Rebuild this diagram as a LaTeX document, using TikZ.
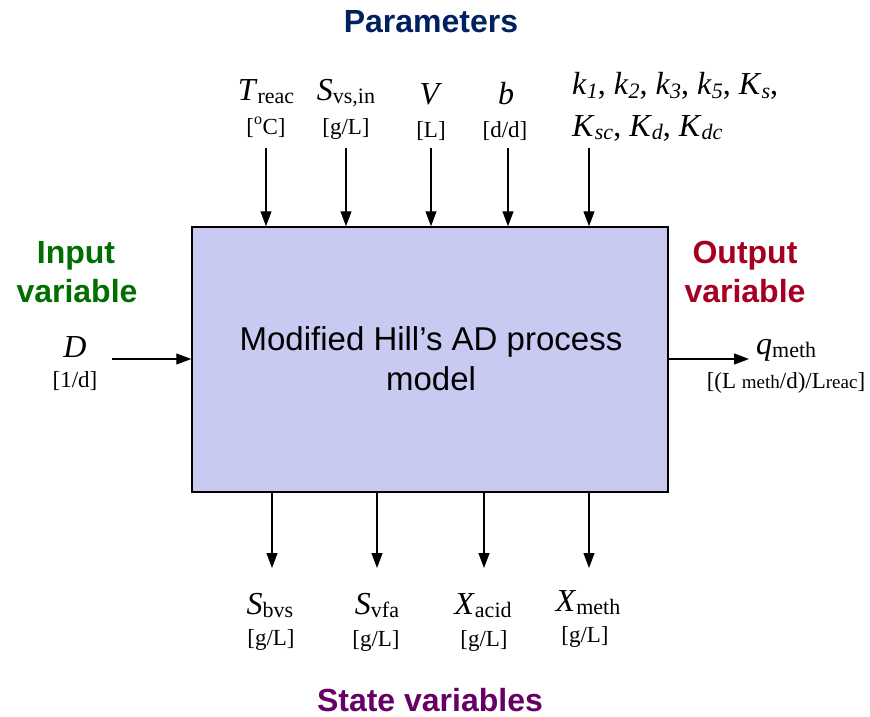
\documentclass[tikz,border=0pt]{standalone}
\usepackage{fontspec}
\setmainfont{Liberation Serif}
\setsansfont{Liberation Sans}
\usetikzlibrary{arrows.meta}
\definecolor{navyc}{RGB}{0,32,96}
\definecolor{greenc}{RGB}{0,110,0}
\definecolor{redc}{RGB}{165,0,33}
\definecolor{purplec}{RGB}{102,0,102}
\definecolor{boxfill}{RGB}{200,202,242}
\newcommand{\symsub}[2]{\textit{#1}\raisebox{-3pt}{\fontsize{22}{22}\selectfont #2}}
\newcommand{\symisub}[2]{\textit{#1}\raisebox{-3pt}{\fontsize{22}{22}\selectfont\itshape #2}}
\begin{document}
\begin{tikzpicture}[x=1pt,y=-1pt,
  title/.style={font=\fontsize{32}{38}\selectfont\sffamily\bfseries, inner sep=0pt, anchor=base},
  boxtext/.style={font=\fontsize{33}{38}\selectfont\sffamily, inner sep=0pt, anchor=base},
  sym/.style={font=\fontsize{32}{36}\selectfont, inner sep=0pt, anchor=base},
  unit/.style={font=\fontsize{23}{26}\selectfont, inner sep=0pt, anchor=base},
  arr/.style={-{Triangle[length=15pt,width=11pt]}, line width=1.2pt},
  procbox/.style={draw=black, line width=1.5pt, fill=boxfill, minimum width=476pt, minimum height=265pt, inner sep=0pt}]
\useasboundingbox (0,0) rectangle (870,717);
% titles
\node[title, text=navyc] (ptitle) at (431,33) {Parameters};
\node[title, text=greenc] (in1) at (76,263) {Input};
\node[title, text=greenc] (in2) at (77,302) {variable};
\node[title, text=redc] (out1) at (745,263) {Output};
\node[title, text=redc] (out2) at (745,302) {variable};
\node[title, text=purplec] (stitle) at (430,711) {State variables};
% process box
\node[procbox] (box) at (430,359.5) {};
\node[boxtext] (m1) at (431,350) {Modified Hill’s AD process};
\node[boxtext] (m2) at (431,390) {model};
% parameters
\node[sym] (treac) at (266,100) {\symsub{T}{reac}};
\node[unit] (ut) at (266,134) {[\textsuperscript{o}C]};
\node[sym] (svsin) at (346,100) {\symsub{S}{vs,in}};
\node[unit] (us) at (346,134) {[g/L]};
\node[sym] (vol) at (431,104) {\textit{V}};
\node[unit] (uv) at (431,137) {[L]};
\node[sym] (bb) at (506,104) {\textit{b}};
\node[unit] (ub) at (505,137) {[d/d]};
\node[sym, anchor=base west] (kl1) at (572,95) {\symisub{k}{1}, \symisub{k}{2}, \symisub{k}{3}, \symisub{k}{5}, \symisub{K}{s},};
\node[sym, anchor=base west] (kl2) at (572,136) {\symisub{K}{sc}, \symisub{K}{d}, \symisub{K}{dc}};
\coordinate (p1) at (266,148);
\coordinate (p2) at (346,148);
\coordinate (p3) at (431,148);
\coordinate (p4) at (508,148);
\coordinate (p5) at (589,148);
\foreach \p in {p1,p2,p3,p4,p5} \draw[arr] (\p) -- (\p |- box.north);
% input
\node[sym] (dd) at (75,357) {\textit{D}};
\node[unit] (ud) at (75,387) {[1/d]};
\coordinate (inS) at (112,359);
\draw[arr] (inS) -- (inS -| box.west);
% output
\coordinate (outE) at (749,359);
\draw[arr] (outE -| box.east) -- (outE);
\node[sym, anchor=base west] (qm) at (756,354) {\symsub{q}{meth}};
\node[unit] (uq) at (786,388) {[(L {\fontsize{19}{20}\selectfont meth}/d)/L{\fontsize{19}{20}\selectfont reac}]};
% states
\coordinate (s1) at (272,568);
\coordinate (s2) at (377,568);
\coordinate (s3) at (484,568);
\coordinate (s4) at (589,568);
\foreach \s in {s1,s2,s3,s4} \draw[arr] (\s |- box.south) -- (\s);
\node[sym] (sbvs) at (270,614) {\symsub{S}{bvs}};
\node[unit] (u1) at (271,645) {[g/L]};
\node[sym] (svfa) at (377,614) {\symsub{S}{vfa}};
\node[unit] (u2) at (376,646) {[g/L]};
\node[sym] (xacid) at (483,614) {\symsub{X}{acid}};
\node[unit] (u3) at (484,646) {[g/L]};
\node[sym] (xmeth) at (588,611) {\symsub{X}{meth}};
\node[unit] (u4) at (585,642) {[g/L]};
\end{tikzpicture}
\end{document}
